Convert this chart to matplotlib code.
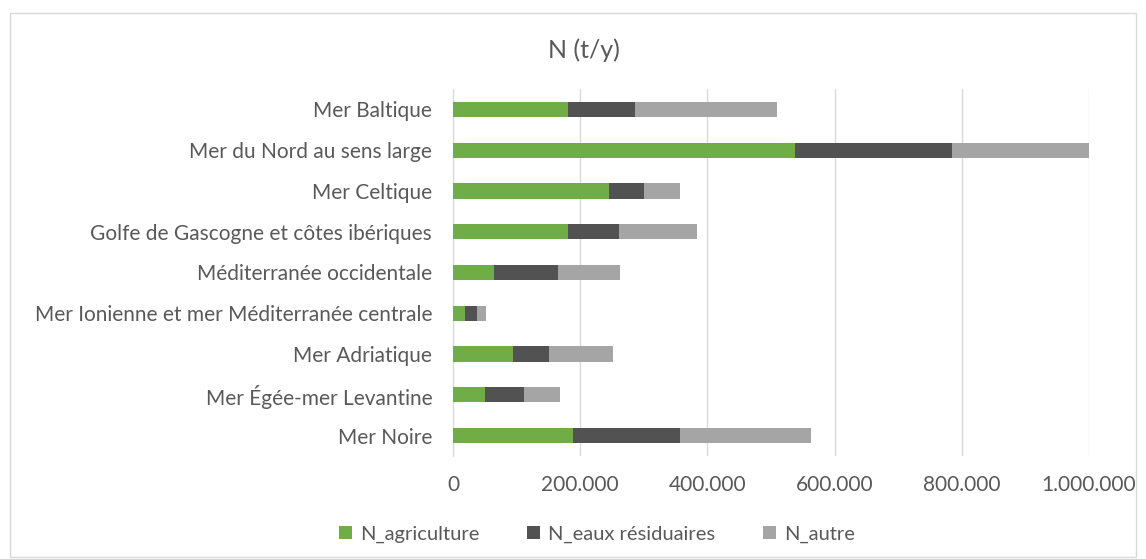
import numpy as np
import matplotlib
matplotlib.use("Agg")
import matplotlib.pyplot as plt
from matplotlib.patches import Rectangle
from matplotlib.ticker import FuncFormatter

plt.rcParams['font.family'] = ['Lato', 'DejaVu Sans']

# data (t/y), top to bottom
regions = ['Mer Baltique', 'Mer du Nord au sens large', 'Mer Celtique',
           'Golfe de Gascogne et côtes ibériques', 'Méditerranée occidentale',
           'Mer Ionienne et mer Méditerranée centrale', 'Mer Adriatique',
           'Mer Égée-mer Levantine', 'Mer Noire']
n_agriculture = [181000, 537000, 245000, 181000, 65000, 19000, 95000, 50000, 188000]
n_eaux = [105000, 247000, 55000, 80000, 100000, 19000, 56000, 62000, 169000]
n_autre = [223000, 218000, 57000, 123000, 97000, 14000, 101000, 56000, 206000]

series = [('N_agriculture', n_agriculture, '#70AD47'),
          ('N_eaux résiduaires', n_eaux, '#525252'),
          ('N_autre', n_autre, '#A5A5A5')]

W, H = 1146, 559
fig = plt.figure(figsize=(W / 100, H / 100), dpi=100)
fig.patches.append(Rectangle((10 / W, 1 - 557 / H), 1126 / W, 544 / H,
                             transform=fig.transFigure, fill=False,
                             edgecolor='#D9D9D9', lw=1))

ax = fig.add_axes([453 / W, 1 - 456 / H, 636 / W, 367 / H])
y = np.arange(len(regions))
left = np.zeros(len(regions))
for name, vals, col in series:
    ax.barh(y, vals, left=left, height=0.375, color=col, label=name, zorder=3)
    left += np.array(vals)

ax.set_xlim(0, 1000000)
ax.set_ylim(len(regions) - 0.5, -0.5)
ax.set_xticks(np.arange(0, 1000001, 200000))
ax.xaxis.set_major_formatter(FuncFormatter(lambda v, p: f'{int(v):,}'.replace(',', '.')))
ax.set_yticks(y)
ax.set_yticklabels(regions)
ax.grid(axis='x', color='#D9D9D9', lw=1, zorder=0)
for s in ['top', 'right', 'bottom']:
    ax.spines[s].set_visible(False)
ax.spines['left'].set_color('#D9D9D9')
ax.tick_params(length=0, colors='#595959', labelsize=15)
ax.tick_params(axis='y', pad=15)
ax.tick_params(axis='x', pad=14)

fig.text(584 / W, 1 - 50 / H, 'N (t/y)', ha='center', va='center',
         fontsize=18, color='#595959')

leg = fig.legend(loc='center', bbox_to_anchor=(597 / W, 1 - 534 / H), ncol=3,
                 frameon=False, fontsize=14.5, handlelength=0.65, handleheight=0.65,
                 handletextpad=0.4, columnspacing=2.35)
for t in leg.get_texts():
    t.set_color('#595959')

fig.savefig('out.png', dpi=100)
